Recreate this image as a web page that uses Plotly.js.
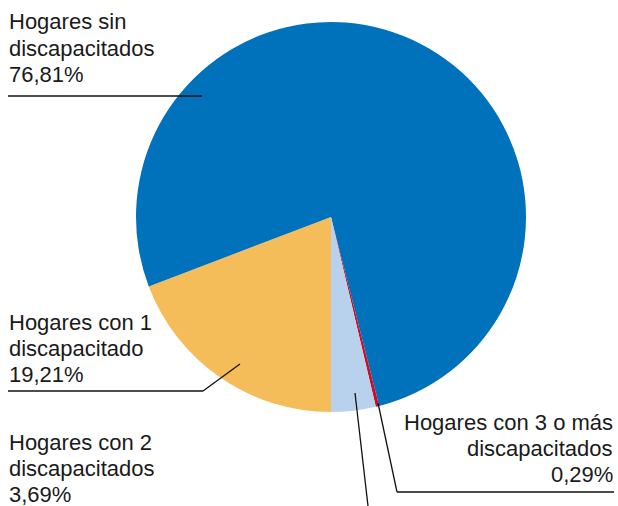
<!DOCTYPE html>
<html>
<head>
<meta charset="utf-8">
<script src="https://cdn.plot.ly/plotly-3.0.1.min.js"></script>
<style>html,body{margin:0;padding:0;background:#fff;}#chart{width:618px;height:506px;}</style>
</head>
<body>
<div id="chart"></div>
<script>
// Data (slice order clockwise, starting at 6 o'clock)
const categories = ["Hogares con 1 discapacitado", "Hogares sin discapacitados", "Hogares con 3 o más discapacitados", "Hogares con 2 discapacitados"];
const shares = [19.21, 76.81, 0.29, 3.69];
const colors = ["#f5bd5a", "#0071bb", "#c8102e", "#b8d2ed"];
const labelLines = [
  ["Hogares con 1", "discapacitado", "19,21%"],
  ["Hogares sin", "discapacitados", "76,81%"],
  ["Hogares con 3 o más", "discapacitados", "0,29%"],
  ["Hogares con 2", "discapacitados", "3,69%"]
];

const W = 618, H = 506;
const px = x => x / W;
const py = y => 1 - y / H;

// label blocks: anchor x, first-line y, alignment
const labelPos = [
  {x: 7, y: 322, anchor: "left"},
  {x: 7, y: 22, anchor: "left"},
  {x: 615, y: 422, anchor: "right"},
  {x: 7, y: 442, anchor: "left"}
];
const lineGap = 26;

const annotations = [];
labelLines.forEach((lines, i) => {
  const p = labelPos[i];
  lines.forEach((t, j) => {
    annotations.push({
      xref: "paper", yref: "paper",
      x: px(p.x), y: py(p.y + j * lineGap),
      xanchor: p.anchor, yanchor: "middle",
      text: t, showarrow: false,
      font: {family: "Liberation Sans, Arial, sans-serif", size: 22, color: "#1a1a1a"}
    });
  });
});

// leader lines (pixel polylines)
const leaders = [
  [[8, 391], [203, 391], [240, 364]],
  [[8, 96], [202, 96]],
  [[614, 492], [397, 492], [378, 403]],
  [[368, 506], [355, 393]]
];
const shapes = [];
leaders.forEach(pts => {
  for (let k = 0; k < pts.length - 1; k++) {
    shapes.push({
      type: "line", xref: "paper", yref: "paper",
      x0: px(pts[k][0]), y0: py(pts[k][1]),
      x1: px(pts[k + 1][0]), y1: py(pts[k + 1][1]),
      line: {color: "#111", width: 1.3}
    });
  }
});

const trace = {
  type: "pie",
  labels: categories,
  values: shares,
  sort: false,
  direction: "clockwise",
  rotation: 180,
  marker: {colors: colors, line: {width: 0}},
  textinfo: "none",
  hoverinfo: "label+percent",
  domain: {x: [136 / W, 526 / W], y: [py(412), py(22)]},
  showlegend: false
};

Plotly.newPlot("chart", [trace], {
  width: W, height: H,
  margin: {l: 0, r: 0, t: 0, b: 0},
  paper_bgcolor: "#fff",
  showlegend: false,
  annotations: annotations,
  shapes: shapes
}, {displayModeBar: false, staticPlot: true});
</script>
</body>
</html>
